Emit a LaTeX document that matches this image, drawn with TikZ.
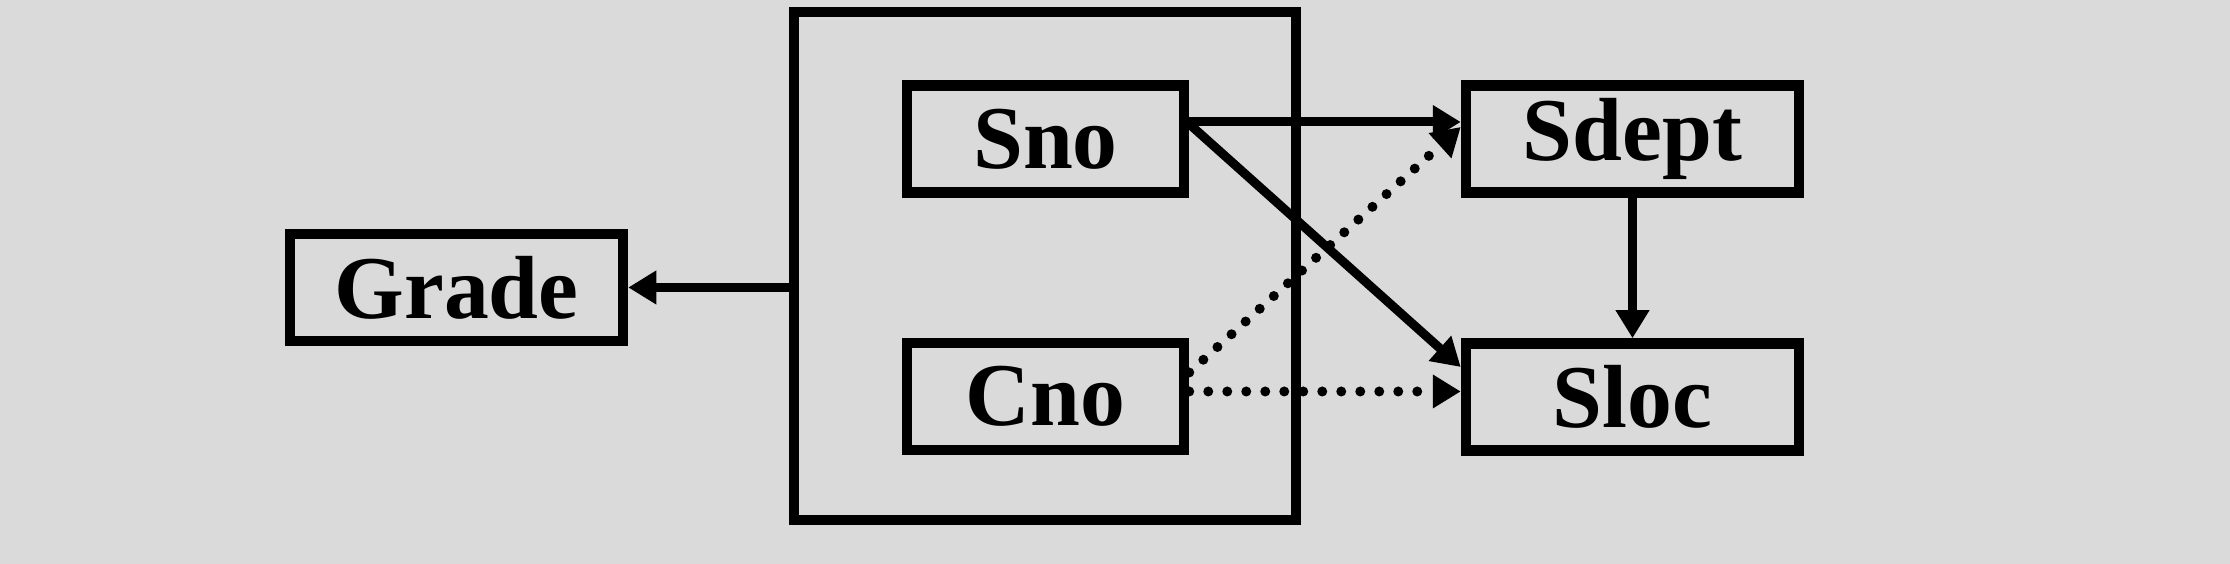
\documentclass[tikz,border=0pt]{standalone}
\usepackage{fontspec}
\setmainfont{Liberation Serif}
\usetikzlibrary{positioning, arrows.meta}
\definecolor{paper}{RGB}{219,218,219}

\begin{document}
\begin{tikzpicture}[->,>={Triangle[length=2.8mm,width=3.2mm]},line width=0.9mm,
    attr/.style={draw,rectangle,line width=1.05mm,minimum height=1.07cm,inner sep=0pt,
      font=\fontsize{25.5}{30}\selectfont\bfseries},
    keybox/.style={draw,rectangle,line width=1mm,minimum width=5.02cm,minimum height=5.08cm},
    partial/.style={line width=1mm,line cap=round,dash pattern=on 0pt off 1.9mm}]
  \fill[-,paper] (0,0) rectangle (22.3,5.64);
  \useasboundingbox (0,0) rectangle (22.3,5.64);

  % composite key
  \node[keybox] (Key) at (10.445,2.975) {};
  \node[attr,minimum width=2.77cm] (Sno) at (10.455,4.25) {Sno};
  \node[attr,minimum width=2.77cm] (Cno) [below of=Sno,node distance=2.575cm] {Cno};

  % other attributes
  \node[attr,minimum width=3.33cm] (Grade) at (4.565,2.765) {Grade};
  \node[attr,minimum width=3.33cm] (Sdept) [right of=Sno,node distance=5.87cm] {Sdept};
  \node[attr,minimum width=3.33cm] (Sloc) [below of=Sdept,node distance=2.58cm] {Sloc};

  \draw (Key.west |- Grade.east) -- (Grade.east);
  \draw ([yshift=1.7mm]Sno.east) -- ([yshift=1.7mm]Sno.east -| Sdept.west);
  \draw ([yshift=1.5mm]Sno.east) -- ([yshift=3mm]Sloc.west);
  \draw[partial] ([yshift=2.4mm]Cno.east) -- ([yshift=1.2mm]Sdept.west);
  \draw[partial] ([yshift=0.5mm]Cno.east) -- ([yshift=0.5mm]Cno.east -| Sloc.west);
  \draw (Sdept) -- (Sloc);
\end{tikzpicture}
\end{document}
